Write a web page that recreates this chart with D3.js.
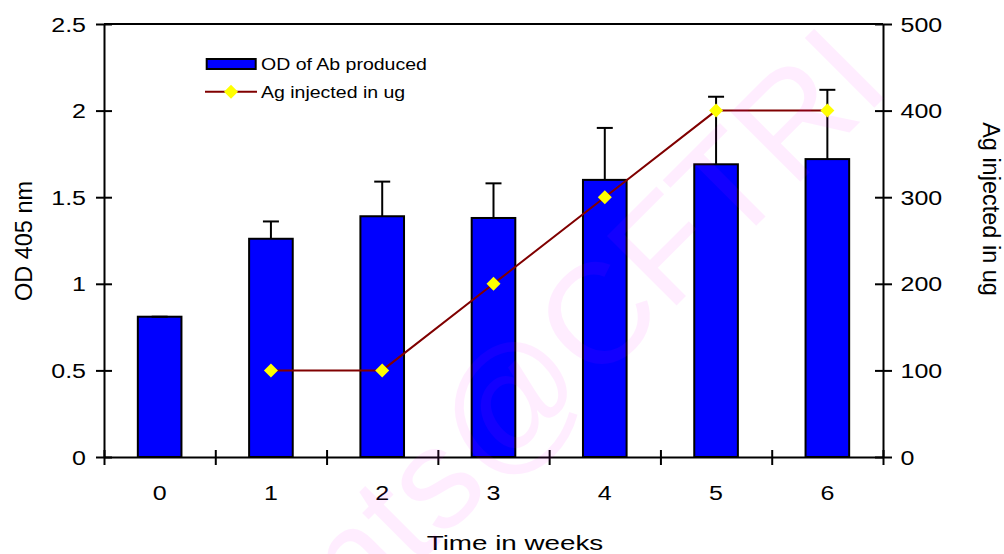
<!DOCTYPE html>
<html><head><meta charset="utf-8">
<script src="https://cdn.jsdelivr.net/npm/d3@7"></script>
<style>
body{margin:0;background:#fff}
svg{display:block}
text{font-family:"Liberation Sans",Arial,sans-serif;fill:#000}
</style>
</head><body>
<svg id="c" width="1004" height="554"></svg>
<script>
// ---- data ----
const weeks = ["0","1","2","3","4","5","6"];
const odValues = [0.81, 1.26, 1.39, 1.38, 1.60, 1.69, 1.72];
const odErrors = [0.0, 0.10, 0.20, 0.20, 0.30, 0.39, 0.40];
const agValues = [null, 100, 100, 200, 300, 400, 400];
const leftTicks = [0, 0.5, 1, 1.5, 2, 2.5];
const rightTicks = [0, 100, 200, 300, 400, 500];
const seriesNames = ["OD of Ab produced", "Ag injected in ug"];
const xTitle = "Time in weeks";
const yLeftTitle = "OD 405 nm";
const yRightTitle = "Ag injected in ug";
const watermark = "contents@CFTRI";

// ---- layout ----
const m = {left:104, right:883, top:24, bottom:457};
const SX = 1.25;
const svg = d3.select("#c");

const x = d3.scaleBand().domain(weeks).range([m.left, m.right]).padding(0);
const xEdge = d3.scaleLinear().domain([0, weeks.length]).range([m.left, m.right]);
const yL = d3.scaleLinear().domain([0, 2.5]).range([m.bottom, m.top]);
const yR = d3.scaleLinear().domain([0, 500]).range([m.bottom, m.top]);
const bw = x.bandwidth() * 0.392;
const cx = w => x(w) + x.bandwidth() / 2;

// bars
svg.append("g").selectAll("rect").data(weeks).join("rect")
  .attr("x", (w) => cx(w) - bw / 2)
  .attr("y", (w, i) => yL(odValues[i]))
  .attr("width", bw)
  .attr("height", (w, i) => yL(0) - yL(odValues[i]))
  .attr("fill", "#0000ff").attr("stroke", "#000").attr("stroke-width", 2);

// error bars
const eg = svg.append("g").attr("stroke", "#000").attr("stroke-width", 2);
weeks.forEach((w, i) => {
  const top = yL(odValues[i] + odErrors[i]);
  eg.append("line").attr("x1", cx(w)).attr("x2", cx(w)).attr("y1", yL(odValues[i])).attr("y2", top);
  eg.append("line").attr("x1", cx(w) - 8).attr("x2", cx(w) + 8).attr("y1", top).attr("y2", top);
});

// axes
function styleAxis(g){
  g.select(".domain").attr("stroke", "#000").attr("stroke-width", 2);
  g.selectAll(".tick line").attr("stroke", "#000").attr("stroke-width", 2);
}
const gl = svg.append("g").attr("transform", `translate(${m.left},0)`)
  .call(d3.axisLeft(yL).tickValues(leftTicks).tickFormat(d3.format("")).tickSizeOuter(0));
styleAxis(gl);
gl.selectAll(".tick line").attr("x1", 8).attr("x2", -8);
gl.selectAll(".tick text").attr("x", -18 / SX).attr("dy", 0).attr("y", 7)
  .attr("transform", `scale(${SX},1)`).attr("font-size", 20).attr("font-family", null);

const gr = svg.append("g").attr("transform", `translate(${m.right},0)`)
  .call(d3.axisRight(yR).tickValues(rightTicks).tickSizeOuter(0));
styleAxis(gr);
gr.selectAll(".tick line").attr("x1", -8).attr("x2", 9);
gr.selectAll(".tick text").attr("x", 17.5 / SX).attr("dy", 0).attr("y", 7)
  .attr("transform", `scale(${SX},1)`).attr("font-size", 20).attr("font-family", null);

const gb = svg.append("g").attr("transform", `translate(0,${m.bottom})`)
  .call(d3.axisBottom(xEdge).tickValues(d3.range(weeks.length + 1)).tickFormat("").tickSizeOuter(0));
styleAxis(gb);
gb.selectAll(".tick line").attr("y1", -7).attr("y2", 8);
const gbl = svg.append("g").attr("transform", `translate(0,${m.bottom})`)
  .call(d3.axisBottom(x).tickSize(0));
gbl.select(".domain").remove();
gbl.selectAll(".tick text").attr("dy", 0).attr("y", 43.5)
  .attr("transform", `scale(${SX},1)`).attr("font-size", 20).attr("font-family", null);
gbl.selectAll(".tick").attr("transform", d => `translate(${cx(d)},0)`);

// top frame
svg.append("line").attr("x1", m.left).attr("x2", m.right).attr("y1", m.top).attr("y2", m.top)
  .attr("stroke", "#000").attr("stroke-width", 2);

// line series
const pts = weeks.map((w, i) => ({w, v: agValues[i]})).filter(d => d.v != null);
svg.append("path").datum(pts)
  .attr("d", d3.line().x(d => cx(d.w)).y(d => yR(d.v)))
  .attr("fill", "none").attr("stroke", "#800000").attr("stroke-width", 2);
const diamond = d3.symbol(d3.symbolSquare, 98);
svg.append("g").selectAll("path").data(pts).join("path")
  .attr("d", diamond)
  .attr("transform", d => `translate(${cx(d.w)},${yR(d.v)}) rotate(45)`)
  .attr("fill", "#ffff00");

// legend
const lg = svg.append("g");
lg.append("rect").attr("x", 206.7).attr("y", 59).attr("width", 49).attr("height", 10)
  .attr("fill", "#0000ff").attr("stroke", "#000").attr("stroke-width", 2);
lg.append("line").attr("x1", 205).attr("x2", 257).attr("y1", 91.7).attr("y2", 91.7)
  .attr("stroke", "#800000").attr("stroke-width", 2);
lg.append("path").attr("d", diamond).attr("transform", "translate(231,91.7) rotate(45)").attr("fill", "#ffff00");
const LS = 1.22;
lg.append("text").attr("transform", `translate(261,70) scale(${LS},1)`).attr("font-size", 16).text(seriesNames[0]);
lg.append("text").attr("transform", `translate(261,97.7) scale(${LS},1)`).attr("font-size", 16).text(seriesNames[1]);

// titles
svg.append("text").attr("transform", "translate(515,549.5) scale(1.39,1)")
  .attr("text-anchor", "middle").attr("font-size", 20).text(xTitle);
svg.append("text").attr("transform", "translate(32,241) rotate(-90)")
  .attr("text-anchor", "middle").attr("font-size", 23.5).text(yLeftTitle);
svg.append("text").attr("transform", "translate(983,209) rotate(90)")
  .attr("text-anchor", "middle").attr("font-size", 23.5).text(yRightTitle);

// watermark
svg.append("text").attr("transform", "translate(893,89) rotate(-45)")
  .attr("text-anchor", "end").attr("font-size", 143)
  .style("fill", "#ff00ff").attr("fill-opacity", 0.07).text(watermark);
</script>
</body></html>
